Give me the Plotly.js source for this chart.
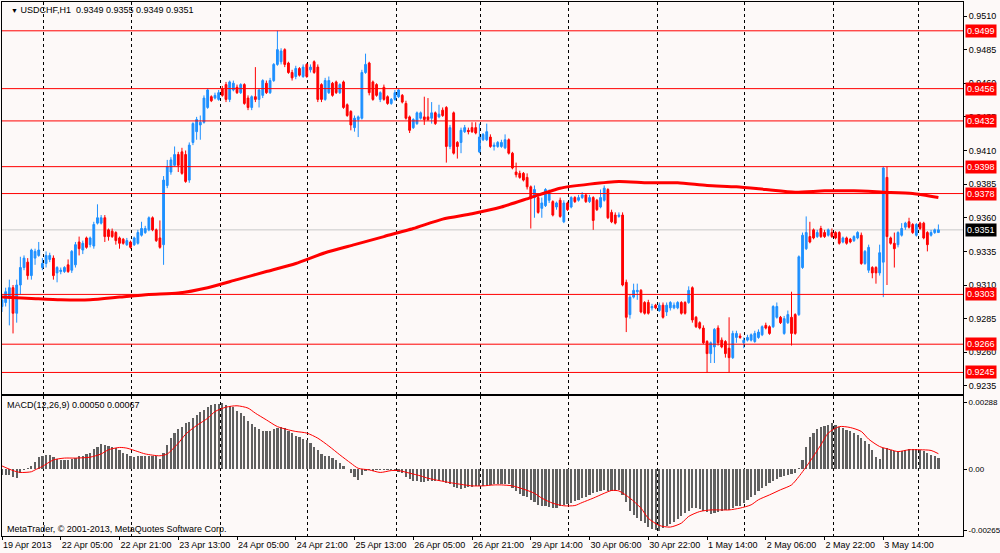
<!DOCTYPE html>
<html><head><meta charset="utf-8">
<script src="https://cdn.plot.ly/plotly-3.0.1.min.js"></script>
<style>html,body{margin:0;padding:0;background:#FDF9F8;} #chart{width:1000px;height:553px;}</style>
</head><body><div id="chart"></div>
<script>
const symbolName = "USDCHF,H1";
const opens = [
.9294,.9297,.9300,.9308,.9289,.9310,.9323,.9327,.9317,.9330,.9332,.9323,.9326,.9329,.9330,.9319,
.9320,.9320,.9325,.9321,.9325,.9342,.9336,.9345,.9340,.9339,.9356,.9356,.9360,.9351,.9350,.9349,
.9345,.9344,.9340,.9342,.9340,.9341,.9347,.9349,.9351,.9360,.9351,.9345,.9340,.9384,.9394,.9399,
.9407,.9409,.9407,.9388,.9416,.9424,.9429,.9431,.9442,.9450,.9449,.9448,.9456,.9459,.9448,.9455,
.9457,.9453,.9459,.9449,.9442,.9450,.9448,.9451,.9460,.9453,.9462,.9474,.9476,.9485,.9475,.9468,
.9465,.9471,.9465,.9474,.9470,.9476,.9472,.9459,.9448,.9453,.9460,.9461,.9453,.9461,.9444,.9439,
.9427,.9433,.9434,.9468,.9475,.9461,.9459,.9448,.9457,.9450,.9445,.9448,.9450,.9451,.9445,.9435,
.9427,.9430,.9434,.9435,.9435,.9434,.9438,.9435,.9440,.9442,.9413,.9438,.9416,.9416,.9424,.9425,
.9427,.9427,.9409,.9418,.9418,.9420,.9413,.9413,.9413,.9412,.9418,.9408,.9394,.9393,.9393,.9390,
.9383,.9375,.9375,.9367,.9369,.9373,.9372,.9368,.9373,.9357,.9371,.9368,.9375,.9373,.9375,.9377,
.9372,.9375,.9373,.9368,.9373,.9381,.9364,.9362,.9361,.9362,.9312,.9288,.9301,.9305,.9306,.9297,
.9297,.9293,.9295,.9291,.9295,.9290,.9293,.9293,.9293,.9297,.9297,.9297,.9308,.9286,.9282,.9278,
.9268,.9259,.9264,.9278,.9269,.9268,.9263,.9256,.9271,.9272,.9267,.9269,.9269,.9268,.9271,.9273,
.9280,.9279,.9279,.9286,.9286,.9274,.9282,.9286,.9288,.9288,.9323,.9337,.9346,.9351,.9346,.9352,
.9349,.9347,.9349,.9349,.9349,.9342,.9345,.9344,.9343,.9345,.9347,.9326,.9321,.9323,.9323,.9319,
.9327,.9390,.9345,.9341,.9340,.9347,.9353,.9357,.9355,.9347,.9356,.9356,.9349,.9347,.9349,.9349];
const highs = [
.9302,.9308,.9314,.9310,.9314,.9331,.9332,.9330,.9337,.9337,.9342,.9330,.9335,.9334,.9332,.9324,
.9323,.9324,.9329,.9336,.9342,.9346,.9343,.9346,.9346,.9357,.9370,.9362,.9362,.9352,.9352,.9350,
.9346,.9345,.9345,.9343,.9346,.9351,.9357,.9354,.9361,.9361,.9352,.9358,.9391,.9403,.9405,.9413,
.9409,.9412,.9410,.9416,.9431,.9435,.9436,.9451,.9456,.9451,.9453,.9455,.9458,.9461,.9462,.9462,
.9459,.9460,.9460,.9451,.9451,.9472,.9456,.9463,.9462,.9464,.9475,.9499,.9486,.9486,.9476,.9470,
.9473,.9472,.9474,.9475,.9474,.9477,.9474,.9460,.9464,.9465,.9461,.9462,.9460,.9462,.9445,.9440,
.9436,.9436,.9470,.9482,.9476,.9462,.9460,.9454,.9459,.9451,.9449,.9455,.9456,.9452,.9447,.9436,
.9434,.9439,.9439,.9450,.9449,.9446,.9439,.9444,.9442,.9443,.9429,.9439,.9417,.9427,.9429,.9427,
.9431,.9431,.9430,.9423,.9430,.9422,.9416,.9417,.9418,.9422,.9419,.9409,.9401,.9395,.9394,.9393,
.9384,.9384,.9377,.9375,.9382,.9381,.9373,.9372,.9375,.9373,.9372,.9376,.9376,.9377,.9379,.9378,
.9377,.9376,.9374,.9381,.9384,.9382,.9366,.9364,.9364,.9364,.9314,.9303,.9311,.9311,.9307,.9298,
.9299,.9296,.9296,.9297,.9297,.9297,.9298,.9297,.9298,.9298,.9298,.9309,.9309,.9287,.9283,.9280,
.9269,.9268,.9278,.9280,.9271,.9269,.9286,.9276,.9276,.9274,.9271,.9273,.9274,.9276,.9277,.9280,
.9282,.9280,.9295,.9297,.9287,.9287,.9291,.9305,.9289,.9332,.9349,.9361,.9357,.9352,.9351,.9354,
.9351,.9352,.9352,.9350,.9350,.9346,.9346,.9345,.9347,.9350,.9349,.9336,.9340,.9324,.9324,.9340,
.9398,.9398,.9346,.9349,.9350,.9356,.9357,.9360,.9356,.9356,.9357,.9357,.9350,.9351,.9352,.9355];
const lows = [
.9290,.9294,.9280,.9274,.9282,.9303,.9321,.9314,.9314,.9325,.9331,.9321,.9323,.9327,.9314,.9312,
.9318,.9319,.9319,.9319,.9323,.9332,.9333,.9337,.9338,.9337,.9355,.9355,.9342,.9343,.9345,.9340,
.9337,.9340,.9339,.9337,.9339,.9340,.9346,.9348,.9350,.9350,.9342,.9337,.9325,.9382,.9392,.9398,
.9394,.9392,.9386,.9386,.9414,.9418,.9418,.9430,.9441,.9446,.9448,.9447,.9450,.9446,.9446,.9454,
.9452,.9452,.9444,.9440,.9440,.9446,.9442,.9449,.9452,.9452,.9461,.9473,.9474,.9472,.9467,.9462,
.9463,.9465,.9464,.9464,.9468,.9467,.9446,.9446,.9447,.9452,.9450,.9452,.9452,.9441,.9435,.9425,
.9424,.9420,.9433,.9467,.9451,.9447,.9450,.9446,.9447,.9444,.9444,.9447,.9449,.9445,.9433,.9423,
.9426,.9429,.9433,.9429,.9432,.9430,.9429,.9434,.9435,.9401,.9411,.9407,.9404,.9408,.9423,.9422,
.9423,.9422,.9408,.9417,.9417,.9412,.9410,.9412,.9412,.9411,.9407,.9396,.9390,.9389,.9387,.9381,
.9352,.9360,.9363,.9360,.9368,.9371,.9361,.9366,.9360,.9356,.9365,.9367,.9371,.9372,.9374,.9371,
.9371,.9351,.9365,.9367,.9372,.9359,.9356,.9355,.9360,.9309,.9275,.9285,.9300,.9299,.9289,.9288,
.9288,.9291,.9292,.9290,.9285,.9287,.9291,.9292,.9292,.9288,.9288,.9296,.9282,.9278,.9277,.9266,
.9245,.9252,.9252,.9265,.9263,.9256,.9245,.9255,.9267,.9270,.9263,.9268,.9268,.9267,.9270,.9272,
.9277,.9273,.9278,.9285,.9281,.9273,.9281,.9265,.9273,.9287,.9322,.9336,.9341,.9344,.9345,.9345,
.9345,.9346,.9345,.9344,.9340,.9341,.9340,.9341,.9342,.9344,.9325,.9325,.9319,.9315,.9311,.9317,
.9301,.9310,.9340,.9323,.9338,.9346,.9351,.9352,.9348,.9346,.9351,.9344,.9335,.9346,.9348,.9349];
const closes = [
.9299,.9305,.9308,.9289,.9310,.9323,.9330,.9317,.9336,.9335,.9336,.9326,.9332,.9332,.9317,.9323,
.9321,.9323,.9320,.9335,.9340,.9337,.9341,.9338,.9345,.9355,.9360,.9360,.9346,.9346,.9346,.9343,
.9341,.9341,.9343,.9338,.9345,.9349,.9352,.9352,.9360,.9351,.9343,.9338,.9388,.9398,.9403,.9407,
.9399,.9393,.9387,.9414,.9430,.9433,.9431,.9449,.9455,.9447,.9451,.9453,.9451,.9448,.9461,.9460,
.9453,.9459,.9445,.9442,.9450,.9448,.9455,.9462,.9453,.9462,.9474,.9485,.9484,.9474,.9468,.9464,
.9471,.9466,.9472,.9465,.9472,.9468,.9448,.9448,.9462,.9462,.9451,.9453,.9459,.9442,.9436,.9429,
.9434,.9435,.9468,.9474,.9453,.9448,.9451,.9453,.9448,.9445,.9448,.9453,.9455,.9446,.9434,.9425,
.9433,.9438,.9438,.9433,.9433,.9438,.9430,.9437,.9436,.9413,.9427,.9408,.9413,.9425,.9427,.9424,
.9424,.9423,.9420,.9422,.9424,.9413,.9414,.9416,.9416,.9418,.9408,.9397,.9392,.9390,.9388,.9383,
.9375,.9381,.9364,.9371,.9381,.9378,.9362,.9371,.9361,.9371,.9366,.9375,.9372,.9375,.9377,.9372,
.9375,.9358,.9366,.9375,.9382,.9360,.9357,.9356,.9362,.9310,.9286,.9301,.9306,.9306,.9290,.9289,
.9289,.9294,.9293,.9295,.9286,.9295,.9297,.9295,.9297,.9289,.9289,.9306,.9284,.9279,.9278,.9267,
.9259,.9267,.9277,.9267,.9264,.9259,.9256,.9274,.9274,.9271,.9269,.9271,.9273,.9274,.9275,.9279,
.9278,.9274,.9294,.9294,.9282,.9285,.9288,.9274,.9274,.9331,.9347,.9349,.9342,.9345,.9349,.9346,
.9346,.9351,.9346,.9345,.9341,.9345,.9341,.9342,.9346,.9349,.9326,.9335,.9338,.9319,.9319,.9334,
.9397,.9346,.9341,.9337,.9349,.9352,.9356,.9353,.9349,.9355,.9352,.9345,.9340,.9349,.9351,.9351];

const maBars = [0,8,16,24,32,40,48,56,64,72,80,88,96,104,112,120,128,136,144,152,160,168,176,184,192,200,208,216,224,232,240,248,255];
const maValues = [.9301,.9300,.9299,.9299,.9301,.9303,.9304,.9308,.9314,.9320,.9326,.9334,.9340,.9346,.9352,.9359,.9363,.9368,.9375,.9382,.9385,.9387,.9386,.9386,.9384,.9383,.9381,.9379,.9380,.9380,.9379,.9378,.9375];

const macdHist = [
-0.00024,-0.00024,-0.00024,-0.00032,-0.00036,-0.00017,-0.00003,0.00007,0.00014,0.00033,0.00052,0.00055,0.00062,0.00062,0.00052,0.00043,
0.00040,0.00040,0.00040,0.00043,0.00048,0.00055,0.00058,0.00066,0.00072,0.00086,0.00098,0.00109,0.00105,0.00102,0.00098,0.00091,
0.00084,0.00072,0.00065,0.00055,0.00052,0.00055,0.00058,0.00059,0.00058,0.00055,0.00058,0.00045,0.00072,0.00105,0.00134,0.00158,
0.00173,0.00184,0.00199,0.00206,0.00220,0.00235,0.00246,0.00256,0.00268,0.00278,0.00282,0.00282,0.00288,0.00278,0.00274,0.00268,
0.00253,0.00242,0.00228,0.00210,0.00196,0.00184,0.00173,0.00167,0.00166,0.00167,0.00173,0.00180,0.00184,0.00180,0.00167,0.00156,
0.00144,0.00138,0.00132,0.00127,0.00115,0.00098,0.00081,0.00066,0.00058,0.00055,0.00048,0.00040,0.00026,0.00014,0.00001,-0.00017,
-0.00032,-0.00046,-0.00024,-0.00006,-0.00003,-0.00006,-0.00003,-0.00003,-0.00003,-0.00003,-0.00003,-0.00006,-0.00010,-0.00017,-0.00032,-0.00042,
-0.00049,-0.00053,-0.00056,-0.00056,-0.00053,-0.00050,-0.00050,-0.00053,-0.00053,-0.00058,-0.00065,-0.00075,-0.00082,-0.00085,-0.00082,-0.00078,
-0.00075,-0.00071,-0.00072,-0.00072,-0.00069,-0.00068,-0.00065,-0.00063,-0.00063,-0.00065,-0.00063,-0.00082,-0.00096,-0.00107,-0.00115,-0.00121,
-0.00132,-0.00140,-0.00154,-0.00158,-0.00161,-0.00164,-0.00166,-0.00166,-0.00161,-0.00154,-0.00151,-0.00144,-0.00137,-0.00132,-0.00125,-0.00118,
-0.00111,-0.00104,-0.00099,-0.00094,-0.00092,-0.00094,-0.00094,-0.00094,-0.00092,-0.00111,-0.00140,-0.00180,-0.00197,-0.00212,-0.00222,-0.00233,
-0.00248,-0.00258,-0.00262,-0.00265,-0.00255,-0.00247,-0.00236,-0.00226,-0.00216,-0.00204,-0.00190,-0.00179,-0.00168,-0.00168,-0.00173,-0.00180,
-0.00186,-0.00194,-0.00190,-0.00183,-0.00179,-0.00176,-0.00176,-0.00168,-0.00161,-0.00158,-0.00147,-0.00135,-0.00121,-0.00111,-0.00096,-0.00082,
-0.00072,-0.00060,-0.00049,-0.00043,-0.00035,-0.00029,-0.00024,-0.00020,-0.00017,0.00004,0.00040,0.00098,0.00141,0.00158,0.00173,0.00181,
0.00187,0.00192,0.00199,0.00192,0.00184,0.00177,0.00170,0.00163,0.00158,0.00148,0.00134,0.00120,0.00109,0.00081,0.00052,0.00043,
0.00091,0.00091,0.00084,0.00079,0.00076,0.00079,0.00084,0.00088,0.00086,0.00086,0.00084,0.00079,0.00069,0.00062,0.00058,0.00050];

const signalBars = [0,3,5,8,9,11,14,17,20,24,27,29,32,34,37,39,43,45,48,50,53,56,58,61,64,67,69,72,75,78,80,83,86,89,92,95,97,100,103,106,108,111,114,116,119,122,126,128,131,134,136,139,142,145,147,150,153,156,158,161,164,166,168,171,174,176,179,182,185,187,190,193,196,198,201,204,206,209,212,215,217,220,223,225,228,231,234,236,239,242,244,247,250,253,255];
const signalValues = [0.00014,-0.00006,-0.00014,-0.00011,-0.00003,0.00012,0.00040,0.00048,0.00048,0.00052,0.00066,0.00084,0.00094,0.00091,0.00076,0.00066,0.00058,0.00066,0.00112,0.00151,0.00189,0.00220,0.00249,0.00268,0.00274,0.00264,0.00242,0.00213,0.00184,0.00170,0.00163,0.00156,0.00134,0.00100,0.00062,0.00026,0.00004,-0.00003,-0.00014,-0.00006,-0.00006,-0.00017,-0.00029,-0.00039,-0.00049,-0.00058,-0.00068,-0.00072,-0.00072,-0.00068,-0.00068,-0.00072,-0.00086,-0.00104,-0.00125,-0.00147,-0.00158,-0.00157,-0.00144,-0.00125,-0.00104,-0.00092,-0.00094,-0.00125,-0.00168,-0.00212,-0.00243,-0.00250,-0.00233,-0.00204,-0.00183,-0.00176,-0.00176,-0.00176,-0.00168,-0.00154,-0.00132,-0.00111,-0.00089,-0.00068,-0.00032,0.00033,0.00105,0.00156,0.00184,0.00180,0.00163,0.00130,0.00098,0.00084,0.00076,0.00084,0.00084,0.00081,0.00067];

const levelLines = [0.9499,0.9456,0.9432,0.9398,0.9378,0.9303,0.9266,0.9245];
const bidPrice = 0.9351;
const dateLabels = ["19 Apr 2013","22 Apr 05:00","22 Apr 21:00","23 Apr 13:00","24 Apr 05:00","24 Apr 21:00","25 Apr 13:00","26 Apr 05:00","26 Apr 21:00","29 Apr 14:00","30 Apr 06:00","30 Apr 22:00","1 May 14:00","2 May 06:00","2 May 22:00","3 May 14:00"];
const dateLabelBars = [0,16,32,48,64,80,96,112,128,144,160,176,192,208,224,240];
const gridBars = [11.4,35.4,59.4,83.3,107.3,130.4,154.4,178.4,202.3,226.3,249.5];
const priceTicks = [0.9235,0.9260,0.9285,0.9310,0.9335,0.9360,0.9385,0.9410,0.9435,0.9460,0.9485,0.9510];
const macdTicks = [-0.00265,0,0.00288];
const macdTickText = ["-0.00265","0.00","0.00288"];

const bars = opens.map((_, i) => i);
const last = opens.length - 1;
const BG = '#FDF9F8';
const FONT = 'Liberation Sans, Arial, sans-serif';
const xRange = [0, 261.7];

const traces = [
  {type:'candlestick', x:bars, open:opens, high:highs, low:lows, close:closes,
   xaxis:'x', yaxis:'y', whiskerwidth:0, hoverinfo:'skip',
   increasing:{line:{color:'#1E90FF', width:1}, fillcolor:'#1E90FF'},
   decreasing:{line:{color:'#FF0000', width:1}, fillcolor:'#FF0000'}},
  {type:'scatter', mode:'lines', x:maBars, y:maValues, xaxis:'x', yaxis:'y',
   line:{color:'#FF0000', width:3, shape:'spline', smoothing:0.6}, hoverinfo:'skip'},
  {type:'bar', x:bars, y:macdHist, xaxis:'x2', yaxis:'y2', width:0.6,
   marker:{color:'#606060', line:{width:0}}, hoverinfo:'skip'},
  {type:'scatter', mode:'lines', x:signalBars, y:signalValues, xaxis:'x2', yaxis:'y2',
   line:{color:'#FF0000', width:1, shape:'spline', smoothing:0.7}, hoverinfo:'skip'}
];

const shapes = [
  {type:'line', xref:'x domain', x0:0, x1:1, yref:'y', y0:bidPrice, y1:bidPrice,
   line:{color:'#C8C8C8', width:1}, layer:'below'}
].concat(levelLines.map(v => ({type:'line', xref:'x domain', x0:0, x1:1, yref:'y', y0:v, y1:v,
   line:{color:'#FF0000', width:1}})));

const annotations = [
  {xref:'paper', yref:'paper', x:0, y:1, xanchor:'left', yanchor:'top', xshift:7, yshift:-1, showarrow:false,
   text:'<span style="font-size:7px">▼</span> ' + symbolName + '\u00a0\u00a0' + [opens[last],highs[last],lows[last],closes[last]].map(v=>v.toFixed(4)).join(' '),
   font:{family:FONT, size:9, color:'#000'}},
  {xref:'paper', yref:'y2 domain', x:0, y:1, xanchor:'left', yanchor:'top', xshift:3, yshift:-2, showarrow:false,
   text:'MACD(12,26,9) ' + macdHist[last].toFixed(5) + ' ' + signalValues[signalValues.length-1].toFixed(5),
   font:{family:FONT, size:9, color:'#000'}},
  {xref:'paper', yref:'y2 domain', x:0, y:0, xanchor:'left', yanchor:'bottom', xshift:3, yshift:0, showarrow:false,
   text:'MetaTrader, © 2001-2013, MetaQuotes Software Corp.',
   font:{family:FONT, size:9, color:'#000'}}
].concat(levelLines.map(v => ({xref:'paper', yref:'y', x:1, y:v, xanchor:'left', yanchor:'middle', xshift:2,
   showarrow:false, text:v.toFixed(4), bgcolor:'#FF0000', borderpad:1,
   font:{family:FONT, size:9, color:'#FFFFFF'}})))
 .concat([{xref:'paper', yref:'y', x:1, y:bidPrice, xanchor:'left', yanchor:'middle', xshift:2,
   showarrow:false, text:bidPrice.toFixed(4), bgcolor:'#000000', borderpad:1,
   font:{family:FONT, size:9, color:'#FFFFFF'}}]);

const layout = {
  width:1000, height:553,
  margin:{l:2, r:37, t:2, b:17, pad:0},
  paper_bgcolor:BG, plot_bgcolor:BG,
  showlegend:false, hovermode:false,
  font:{family:FONT, size:9, color:'#000'},
  xaxis:{domain:[0,1], anchor:'y', range:xRange, fixedrange:true, automargin:false,
    rangeslider:{visible:false},
    showline:true, mirror:true, linecolor:'#000', linewidth:1,
    tickmode:'array', tickvals:gridBars, showticklabels:false, ticks:'',
    showgrid:true, gridcolor:'#000', gridwidth:1, griddash:'3px,3px', zeroline:false},
  yaxis:{domain:[0.2659,1], anchor:'x', side:'right', range:[0.922896,0.952041], fixedrange:true, automargin:false,
    tickmode:'array', tickvals:priceTicks, tickformat:'.4f',
    ticks:'outside', ticklen:3, tickcolor:'#000', tickfont:{family:FONT, size:9, color:'#000'},
    showgrid:false, showline:true, mirror:true, linecolor:'#000', linewidth:1, zeroline:false},
  xaxis2:{domain:[0,1], anchor:'y2', range:xRange, matches:'x', fixedrange:true, automargin:false,
    showline:true, mirror:true, linecolor:'#000', linewidth:1,
    tickmode:'array', tickvals:dateLabelBars, ticktext:dateLabels, tickangle:0,
    ticks:'outside', ticklen:3, tickcolor:'#000', ticklabelposition:'outside right',
    tickfont:{family:FONT, size:9, color:'#000'},
    showgrid:false, zeroline:false,
    minor:{tickmode:'array', tickvals:gridBars, showgrid:true, gridcolor:'#000', gridwidth:1, griddash:'3px,3px', ticks:''}},
  yaxis2:{domain:[0,0.2622], anchor:'x2', side:'right', range:[-0.002886,0.003163], fixedrange:true, automargin:false,
    tickmode:'array', tickvals:macdTicks, ticktext:macdTickText,
    ticks:'outside', ticklen:3, tickcolor:'#000', tickfont:{family:FONT, size:8, color:'#000'},
    showgrid:false, showline:true, mirror:true, linecolor:'#000', linewidth:1, zeroline:false},
  shapes:shapes, annotations:annotations, bargap:0
};

Plotly.newPlot('chart', traces, layout, {displayModeBar:false, staticPlot:true});
</script>
</body></html>
